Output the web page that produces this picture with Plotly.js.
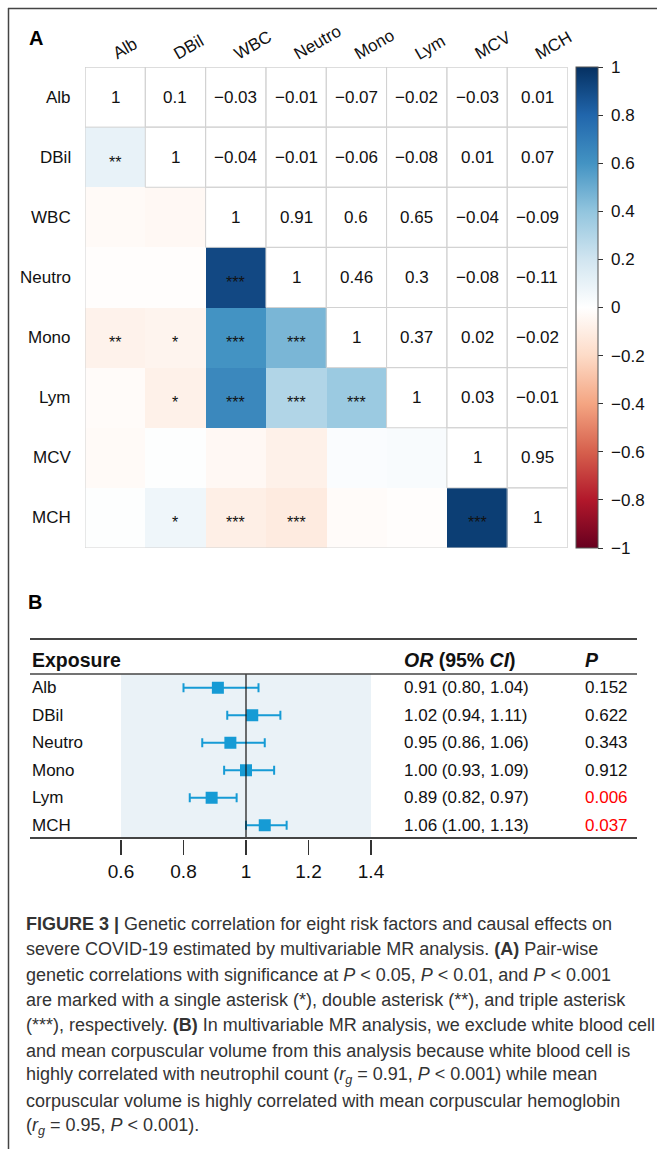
<!DOCTYPE html>
<html>
<head>
<meta charset="utf-8">
<script src="https://cdn.plot.ly/plotly-3.0.1.min.js"></script>
<style>html,body{margin:0;padding:0;background:#fff;}#chart{width:657px;height:1149px;}</style>
</head>
<body>
<div id="chart"></div>
<script>
// ---------------- DATA ----------------
const vars = ['Alb', 'DBil', 'WBC', 'Neutro', 'Mono', 'Lym', 'MCV', 'MCH'];
// genetic correlation matrix (symmetric)
const corr = [
  [1, 0.1, -0.03, -0.01, -0.07, -0.02, -0.03, 0.01],
  [0.1, 1, -0.04, -0.01, -0.06, -0.08, 0.01, 0.07],
  [-0.03, -0.04, 1, 0.91, 0.6, 0.65, -0.04, -0.09],
  [-0.01, -0.01, 0.91, 1, 0.46, 0.3, -0.08, -0.11],
  [-0.07, -0.06, 0.6, 0.46, 1, 0.37, 0.02, -0.02],
  [-0.02, -0.08, 0.65, 0.3, 0.37, 1, 0.03, -0.01],
  [-0.03, 0.01, -0.04, -0.08, 0.02, 0.03, 1, 0.95],
  [0.01, 0.07, -0.09, -0.11, -0.02, -0.01, 0.95, 1]
];
// significance marks for lower triangle (row, col)
const stars = [
  ['', '', '', '', '', '', '', ''],
  ['**', '', '', '', '', '', '', ''],
  ['', '', '', '', '', '', '', ''],
  ['', '', '***', '', '', '', '', ''],
  ['**', '*', '***', '***', '', '', '', ''],
  ['', '*', '***', '***', '***', '', '', ''],
  ['', '', '', '', '', '', '', ''],
  ['', '*', '***', '***', '', '', '***', '']
];
const cbTicks = [1, 0.8, 0.6, 0.4, 0.2, 0, -0.2, -0.4, -0.6, -0.8, -1];

const exposures = ['Alb', 'DBil', 'Neutro', 'Mono', 'Lym', 'MCH'];
const orVals = [0.91, 1.02, 0.95, 1.00, 0.89, 1.06];
const ciLow = [0.80, 0.94, 0.86, 0.93, 0.82, 1.00];
const ciHigh = [1.04, 1.11, 1.06, 1.09, 0.97, 1.13];
const pVals = ['0.152', '0.622', '0.343', '0.912', '0.006', '0.037'];
const forestTicks = [0.6, 0.8, 1, 1.2, 1.4];

const captionLines = [
  '<b>FIGURE 3 |</b> Genetic correlation for eight risk factors and causal effects on',
  'severe COVID-19 estimated by multivariable MR analysis. <b>(A)</b> Pair-wise',
  'genetic correlations with significance at <i>P</i> &lt; 0.05, <i>P</i> &lt; 0.01, and <i>P</i> &lt; 0.001',
  'are marked with a single asterisk (*), double asterisk (**), and triple asterisk',
  '(***), respectively. <b>(B)</b> In multivariable MR analysis, we exclude white blood cell',
  'and mean corpuscular volume from this analysis because white blood cell is',
  'highly correlated with neutrophil count (<i>r<sub>g</sub></i> = 0.91, <i>P</i> &lt; 0.001) while mean',
  'corpuscular volume is highly correlated with mean corpuscular hemoglobin',
  '(<i>r<sub>g</sub></i> = 0.95, <i>P</i> &lt; 0.001).'
];

// ---------------- HELPERS ----------------
const W = 657, H = 1149;
const px = x => x / W;
const py = y => 1 - y / H;
const FONT = 'Liberation Sans, Arial, Helvetica, sans-serif';
const fmt = v => String(v).replace('-', '\u2212');

const rdbu = ['#67001F', '#B2182B', '#D6604D', '#F4A582', '#FDDBC7', '#FFFFFF',
              '#D1E5F0', '#92C5DE', '#4393C3', '#2166AC', '#053061'];
const colorscale = rdbu.map((c, i) => [i / (rdbu.length - 1), c]);

const n = vars.length;
const idx = vars.map((_, i) => i);
const zLower = corr.map((row, i) => row.map((v, j) => (i > j ? v : null)));

const traces = [];
traces.push({
  type: 'heatmap', x: idx, y: idx, z: zLower,
  xaxis: 'x', yaxis: 'y',
  zmin: -1, zmax: 1, colorscale: colorscale, hoverinfo: 'skip',
  colorbar: {
    x: px(576), xanchor: 'left', y: py(67), yanchor: 'top',
    len: (548 - 67) / H, lenmode: 'fraction',
    thickness: 22, thicknessmode: 'pixels',
    xpad: 0, ypad: 0,
    outlinewidth: 1, outlinecolor: '#555',
    ticks: 'outside', ticklen: 5, tickwidth: 1, tickcolor: '#333',
    tickmode: 'array', tickvals: cbTicks, ticktext: cbTicks.map(v => '\u00A0' + fmt(v)),
    tickfont: {family: FONT, size: 17, color: '#111'}
  }
});

const markColor = '#169BD5';
traces.push({
  type: 'scatter', mode: 'markers', x: orVals, y: exposures,
  xaxis: 'x2', yaxis: 'y2', hoverinfo: 'skip',
  marker: {symbol: 'square', size: 12, color: markColor},
  error_x: {
    type: 'data', symmetric: false,
    array: orVals.map((v, i) => ciHigh[i] - v),
    arrayminus: orVals.map((v, i) => v - ciLow[i]),
    color: markColor, thickness: 2, width: 4.5
  }
});

const shapes = [];
const annotations = [];

// frame
shapes.push({type: 'line', xref: 'paper', yref: 'paper', x0: px(8), x1: 1, y0: py(8.5), y1: py(8.5), line: {color: '#444', width: 1.5}});
shapes.push({type: 'line', xref: 'paper', yref: 'paper', x0: px(8.5), x1: px(8.5), y0: py(8), y1: 0, line: {color: '#444', width: 1.5}});

// heatmap upper-triangle cell borders
for (let i = 0; i < n; i++) {
  for (let j = i; j < n; j++) {
    shapes.push({type: 'rect', xref: 'x', yref: 'y', x0: j - 0.5, x1: j + 0.5, y0: i - 0.5, y1: i + 0.5,
      line: {color: '#d2d2d2', width: 1}, fillcolor: 'rgba(0,0,0,0)'});
  }
}
shapes.push({type: 'rect', xref: 'x', yref: 'y', x0: -0.5, x1: n - 0.5, y0: -0.5, y1: n - 0.5,
  line: {color: '#d2d2d2', width: 1}, fillcolor: 'rgba(0,0,0,0)'});

// heatmap texts
for (let i = 0; i < n; i++) {
  for (let j = 0; j < n; j++) {
    if (j >= i) {
      annotations.push({xref: 'x', yref: 'y', x: j, y: i, yanchor: 'middle', text: fmt(corr[i][j]), showarrow: false,
        font: {family: FONT, size: 17, color: '#111'}});
    } else if (stars[i][j]) {
      annotations.push({xref: 'x', yref: 'y', x: j, y: i, yanchor: 'middle', text: stars[i][j], showarrow: false, yshift: -5,
        font: {family: FONT, size: 16, color: '#111'}});
    }
  }
}
// row labels
vars.forEach((v, i) => annotations.push({xref: 'paper', yref: 'y', x: px(73), y: i, xanchor: 'right', yanchor: 'middle',
  text: v, showarrow: false, font: {family: FONT, size: 17, color: '#111'}}));
// column labels (rotated)
vars.forEach((v, j) => annotations.push({xref: 'x', yref: 'paper', x: j, y: py(66), xanchor: 'left', yanchor: 'bottom',
  xshift: -8, text: v, textangle: -30, showarrow: false, font: {family: FONT, size: 17, color: '#111'}}));

// panel letters
annotations.push({xref: 'paper', yref: 'paper', x: px(27), y: py(38), xanchor: 'left', yanchor: 'middle', text: '<b>A</b>', showarrow: false, font: {family: FONT, size: 20, color: '#000'}});
annotations.push({xref: 'paper', yref: 'paper', x: px(26), y: py(602), xanchor: 'left', yanchor: 'middle', text: '<b>B</b>', showarrow: false, font: {family: FONT, size: 20, color: '#000'}});

// forest table decorations
shapes.push({type: 'rect', xref: 'x2', yref: 'paper', x0: forestTicks[0], x1: forestTicks[forestTicks.length - 1], y0: py(838), y1: py(674), fillcolor: '#EAF2F7', line: {width: 0}, layer: 'below'});
shapes.push({type: 'line', xref: 'x2', yref: 'paper', x0: 1, x1: 1, y0: py(838), y1: py(674), line: {color: '#111', width: 1.2}});
[[639, 1.8], [674, 1.3], [838, 1.8]].forEach(([y, w]) => shapes.push({type: 'line', xref: 'paper', yref: 'paper', x0: px(30), x1: px(637), y0: py(y), y1: py(y), line: {color: '#444', width: w}}));

annotations.push({xref: 'paper', yref: 'paper', x: px(30), y: py(660), xanchor: 'left', yanchor: 'middle', text: '<b>Exposure</b>', showarrow: false, font: {family: FONT, size: 19.5, color: '#111'}});
annotations.push({xref: 'paper', yref: 'paper', x: px(402), y: py(660), xanchor: 'left', yanchor: 'middle', text: '<b><i>OR</i> (95% <i>CI</i>)</b>', showarrow: false, font: {family: FONT, size: 19.5, color: '#111'}});
annotations.push({xref: 'paper', yref: 'paper', x: px(583), y: py(660), xanchor: 'left', yanchor: 'middle', text: '<b><i>P</i></b>', showarrow: false, font: {family: FONT, size: 19.5, color: '#111'}});

exposures.forEach((e, i) => {
  annotations.push({xref: 'paper', yref: 'y2', x: px(30), y: e, xanchor: 'left', yanchor: 'middle', text: e, showarrow: false, font: {family: FONT, size: 17, color: '#111'}});
  annotations.push({xref: 'paper', yref: 'y2', x: px(402), y: e, xanchor: 'left', yanchor: 'middle',
    text: orVals[i].toFixed(2) + ' (' + ciLow[i].toFixed(2) + ', ' + ciHigh[i].toFixed(2) + ')', showarrow: false, font: {family: FONT, size: 17, color: '#111'}});
  annotations.push({xref: 'paper', yref: 'y2', x: px(583), y: e, xanchor: 'left', yanchor: 'middle', text: pVals[i], showarrow: false,
    font: {family: FONT, size: 17, color: parseFloat(pVals[i]) < 0.05 ? '#FF0000' : '#111'}});
});

// caption
captionLines.forEach((t, i) => annotations.push({xref: 'paper', yref: 'paper', x: px(24), y: py(924 + i * 25.3), xanchor: 'left', yanchor: 'middle',
  text: t, showarrow: false, font: {family: FONT, size: 18, color: '#333'}}));

const layout = {
  width: W, height: H,
  margin: {l: 0, r: 0, t: 0, b: 0, pad: 0},
  paper_bgcolor: '#fff', plot_bgcolor: 'rgba(0,0,0,0)',
  showlegend: false,
  xaxis: {domain: [px(85), px(567.5)], range: [-0.5, n - 0.5], showgrid: false, zeroline: false, showticklabels: false, ticks: '', fixedrange: true, anchor: 'y'},
  yaxis: {domain: [py(548), py(67)], range: [n - 0.5, -0.5], showgrid: false, zeroline: false, showticklabels: false, ticks: '', fixedrange: true, anchor: 'x'},
  xaxis2: {domain: [px(121), px(371)], range: [0.6, 1.4], anchor: 'y2', showgrid: false, zeroline: false, showline: false,
    tickmode: 'array', tickvals: forestTicks, ticktext: forestTicks.map(String),
    ticks: 'outside', ticklen: 15, tickwidth: 1.5, tickcolor: '#333',
    tickfont: {family: FONT, size: 19, color: '#111'}},
  yaxis2: {domain: [py(839), py(674)], type: 'category', categoryarray: exposures, range: [exposures.length - 0.5, -0.5],
    showgrid: false, zeroline: false, showticklabels: false, ticks: '', anchor: 'x2'},
  shapes: shapes,
  annotations: annotations
};

Plotly.newPlot('chart', traces, layout, {staticPlot: true, displayModeBar: false});
</script>
</body>
</html>
